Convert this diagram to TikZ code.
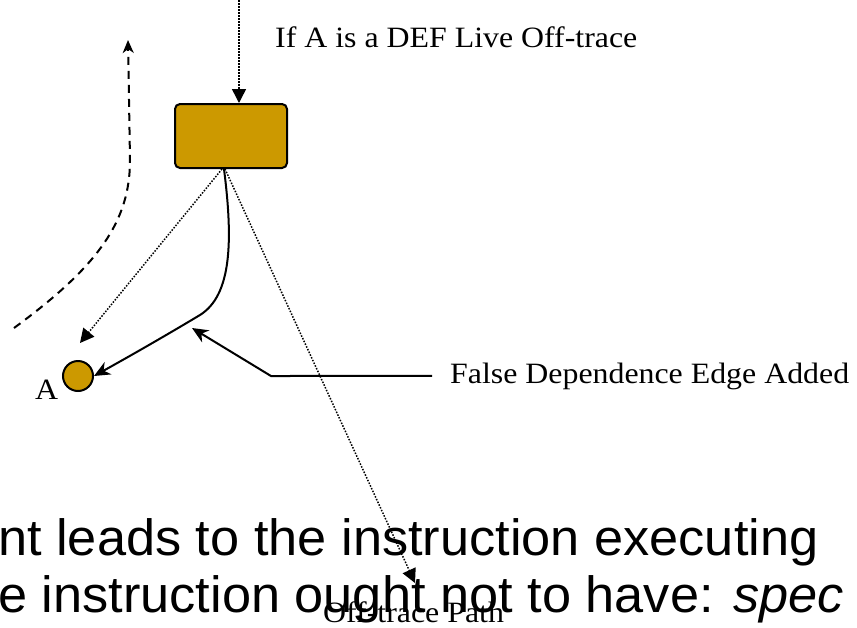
\documentclass[tikz,border=0pt]{standalone}
\usepackage{fontspec}
\usepackage{graphicx}
\setmainfont{Liberation Serif}
\newfontfamily\arialfont{Liberation Sans}
\usetikzlibrary{arrows.meta,calc}
\definecolor{gold}{HTML}{CC9900}
\tikzset{
 lab/.style={anchor=base west, inner sep=0pt, font=\fontsize{29.5}{34}\selectfont},
 bigtext/.style={anchor=base west, inner sep=0pt, font=\arialfont\fontsize{51}{57}\selectfont},
 instr/.style={draw=black, line width=2pt, fill=gold, rounded corners=5pt, minimum width=112pt, minimum height=64pt, inner sep=0pt},
 valnode/.style={circle, draw=black, line width=2pt, fill=gold, minimum size=30pt, inner sep=0pt},
 dotarrow/.style={line width=1.5pt, dash pattern=on 1.5pt off 1.5pt, -{Triangle[length=14pt,width=14pt]}},
 solidarrow/.style={line width=2pt, -{Stealth[length=16pt,width=14pt,inset=5pt]}},
 dasharrow/.style={line width=2pt, dash pattern=on 8pt off 6pt, -{Stealth[length=13pt,width=11pt,inset=4pt]}},
}
\newcommand{\hstretch}[2]{\scalebox{#1}[1]{#2}}
\begin{document}
\begin{tikzpicture}[x=1pt,y=-1pt]
\useasboundingbox (0,0) rectangle (857,627);
\clip (0,0) rectangle (857,627);
% background slide text
\node[bigtext] (line1) at (-2,555) {\hstretch{1.026}{nt leads to the instruction executing}};
\node[bigtext] (line2) at (-2,612) {\hstretch{1.026}{e instruction ought not to have: \textit{spec}}};
% nodes
\node[instr] (box) at (231,136) {};
\node[valnode] (a) at (78,376) {};
\node[lab] (alab) at (35,399) {\hstretch{1.08}{A}};
\node[lab] (deflab) at (275,47) {\hstretch{1.08}{If A is a DEF Live Off-trace}};
\node[lab] (fdlab) at (450,383) {\hstretch{1.08}{False Dependence Edge Added}};
\node[lab] (otp) at (323,622) {\hstretch{1.08}{Off-trace Path}};
% coordinates
\coordinate (top) at (239,0);
\coordinate (bsA) at ($(box.south)+(-9,0)$);
\coordinate (bsB) at ($(box.south)+(-7,0)$);
\coordinate (bsC) at ($(box.south)+(-6,0)$);
\coordinate (dotend) at ($(a.north)+(2,-17)$);
\coordinate (offend) at (415,583);
\coordinate (fdbend) at (271,376);
\coordinate (fdtip) at (192,328);
\coordinate (dashstart) at (14,328);
\coordinate (dashend) at (128,40);
% connectors
\draw[dotarrow] (top) -- (top |- box.north);
\draw[dotarrow] (bsA) -- (dotend);
\draw[dotarrow] (bsC) -- (offend);
\draw[solidarrow] (bsB) .. controls (233,240) and (232,295) .. (200,315)
   .. controls (165,336) and (130,356) .. (a.east);
\draw[solidarrow] ($(fdlab.west)+(-18,0)$) -- (fdbend) -- (fdtip);
\draw[dasharrow] (dashstart) .. controls (100,265) and (130,220) .. (130,160) -- (dashend);
\end{tikzpicture}
\end{document}
